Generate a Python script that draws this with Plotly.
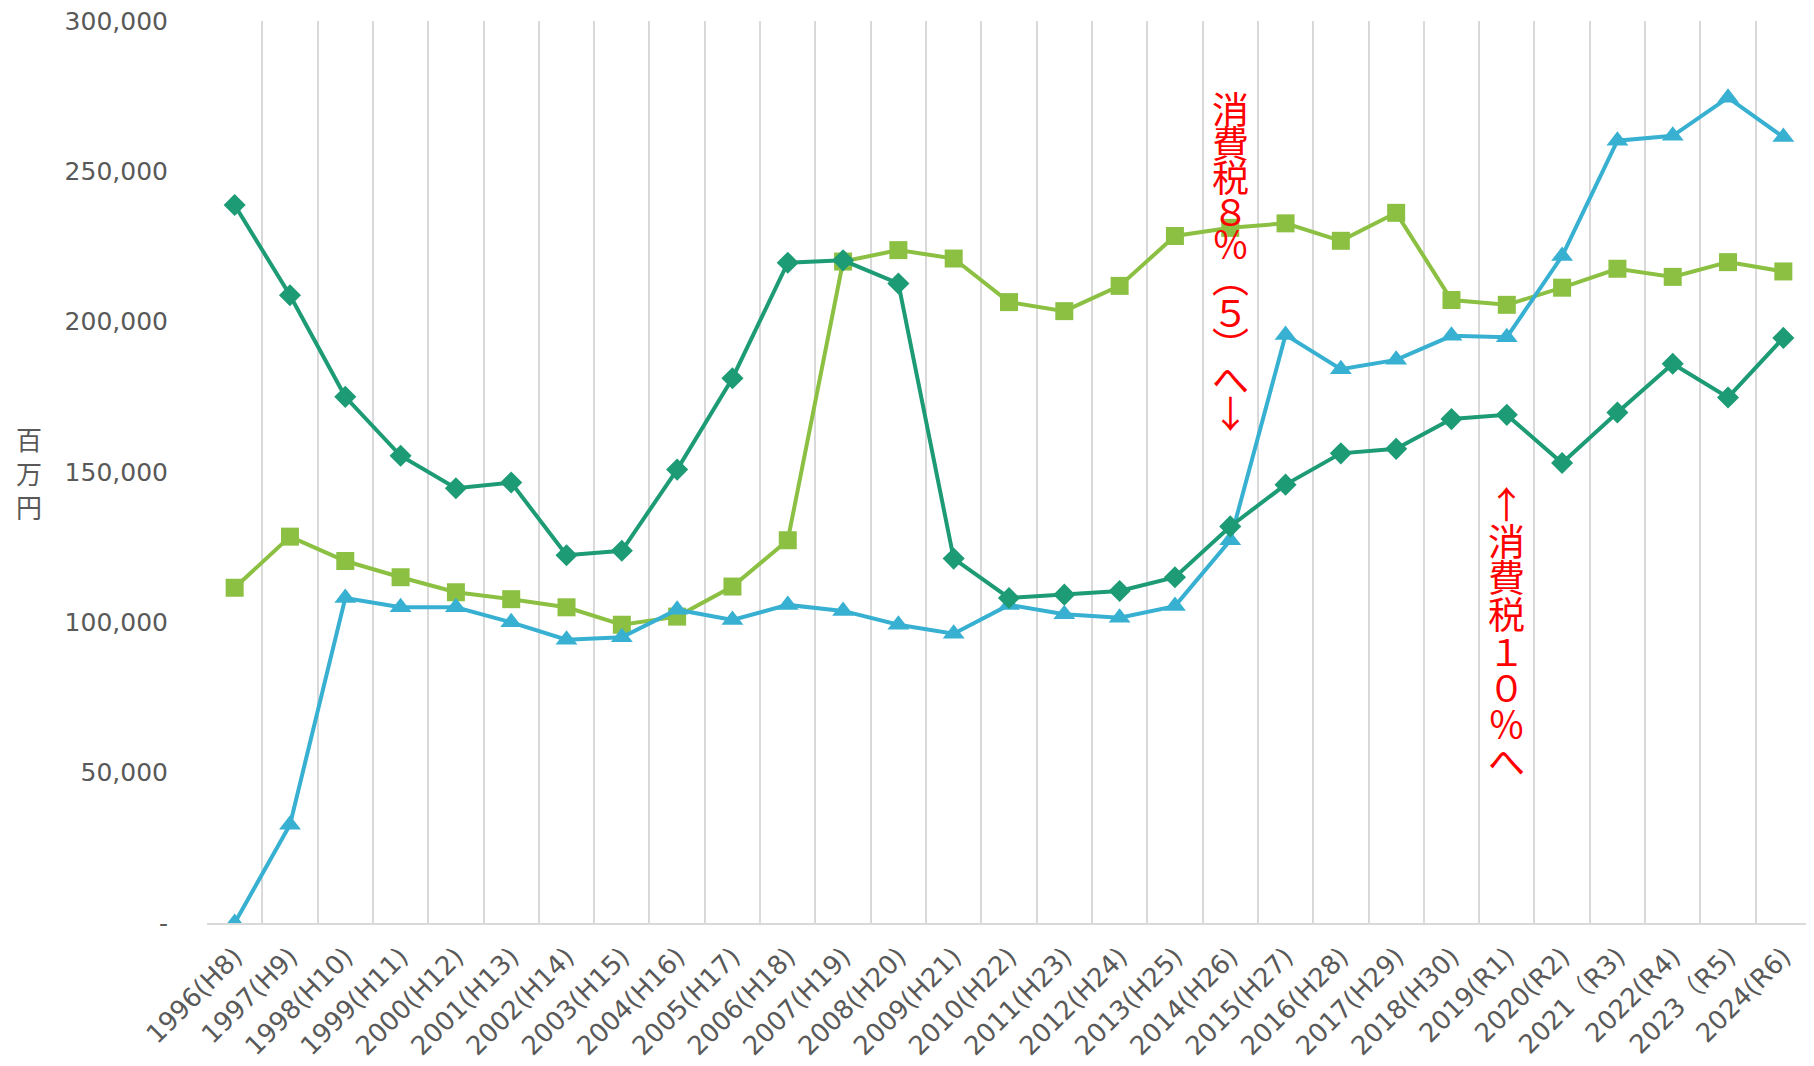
import plotly.graph_objects as go

categories = ["1996(H8)", "1997(H9)", "1998(H10)", "1999(H11)", "2000(H12)", "2001(H13)",
              "2002(H14)", "2003(H15)", "2004(H16)", "2005(H17)", "2006(H18)", "2007(H19)",
              "2008(H20)", "2009(H21)", "2010(H22)", "2011(H23)", "2012(H24)", "2013(H25)",
              "2014(H26)", "2015(H27)", "2016(H28)", "2017(H29)", "2018(H30)", "2019(R1)",
              "2020(R2)", "2021（R3)", "2022(R4)", "2023（R5)", "2024(R6)"]

series_dark = [238800, 208800, 175000, 155400, 144600, 146500, 122300, 123800, 150800, 181200,
               219600, 220400, 212700, 121200, 108100, 109200, 110400, 115000, 131900, 145800,
               156200, 157700, 167600, 169000, 153000, 169800, 186000, 174800, 194600]

series_light = [111500, 128500, 120400, 115000, 110000, 107700, 105000, 99200, 101900, 111900,
                127300, 220000, 223800, 221000, 206500, 203500, 211900, 228500, 231200, 232700,
                226900, 236200, 207200, 205600, 211300, 217600, 214900, 219800, 216700]

series_cyan = [0, 32700, 108100, 105000, 105000, 100000, 94200, 95000, 104200, 100800,
               105800, 103800, 99200, 96200, 105800, 102700, 101500, 105400, 127300, 195600,
               184200, 187300, 195300, 194800, 221800, 260200, 261800, 274500, 261400]

y_tickvals = [0, 50000, 100000, 150000, 200000, 250000, 300000]
y_ticktext = ["-", "50,000", "100,000", "150,000", "200,000", "250,000", "300,000"]

note1_chars = ["消", "費", "税", "８", "％", "︵", "５", "︶", "へ", "↓"]
note1_category = "2014(H26)"
note1_center = 220500
note2_chars = ["↑", "消", "費", "税", "１", "０", "％", "へ"]
note2_category = "2019(R1)"
note2_center = 97000

C_DARK = "#1d9b75"
C_LIGHT = "#8cc043"
C_CYAN = "#37b0d1"

fig = go.Figure()
fig.add_trace(go.Scatter(x=categories, y=series_light, mode="lines+markers",
                         line=dict(color=C_LIGHT, width=4),
                         marker=dict(symbol="square", size=18, color=C_LIGHT), showlegend=False))
fig.add_trace(go.Scatter(x=categories, y=series_cyan, mode="lines+markers",
                         line=dict(color=C_CYAN, width=4),
                         marker=dict(symbol="triangle-up", size=19, color=C_CYAN), showlegend=False))
fig.add_trace(go.Scatter(x=categories, y=series_dark, mode="lines+markers",
                         line=dict(color=C_DARK, width=4),
                         marker=dict(symbol="diamond", size=17, color=C_DARK), showlegend=False))

# vertical red notes, one character per line, evenly stacked (step in axis units)
red_font = dict(family="Noto Sans CJK JP", size=37, color="#ff0000")
for chars, cat, center, step in [(note1_chars, note1_category, note1_center, 11200),
                                 (note2_chars, note2_category, note2_center, 12200)]:
    n = len(chars)
    for i, ch in enumerate(chars):
        yv = center + ((n - 1) / 2 - i) * step
        fig.add_annotation(x=cat, y=yv, xref="x", yref="y", text=ch, showarrow=False,
                           font=red_font, xanchor="center", yanchor="middle",
                           borderpad=0)

fig.add_annotation(x=-0.111, y=0.5, xref="paper", yref="paper", text="百<br>万<br>円",
                   showarrow=False, font=dict(family="Noto Sans CJK JP", size=26, color="#595959"),
                   xanchor="center", yanchor="middle")

fig.update_layout(
    width=1806, height=1058,
    margin=dict(l=199, r=3, t=13, b=143, autoexpand=False),
    plot_bgcolor="white", paper_bgcolor="white",
    font=dict(family="DejaVu Sans, Noto Sans CJK JP", color="#595959", size=24),
    xaxis=dict(type="category", tickson="boundaries", showgrid=True, gridcolor="#d9d9d9",
               gridwidth=2, showline=True, linecolor="#d9d9d9", linewidth=2, ticks="",
               tickangle=-45, tickfont=dict(size=26), ticklabelstandoff=6, automargin=False,
               ticklabeloverflow="allow", range=[-0.5, len(categories) - 0.5]),
    yaxis=dict(range=[0, 300000], tickvals=y_tickvals, ticktext=y_ticktext, showgrid=False,
               zeroline=False, showline=False, ticks="", tickfont=dict(size=25),
               ticklabelstandoff=38, automargin=False, ticklabeloverflow="allow"),
)

fig.write_html("out.html")
